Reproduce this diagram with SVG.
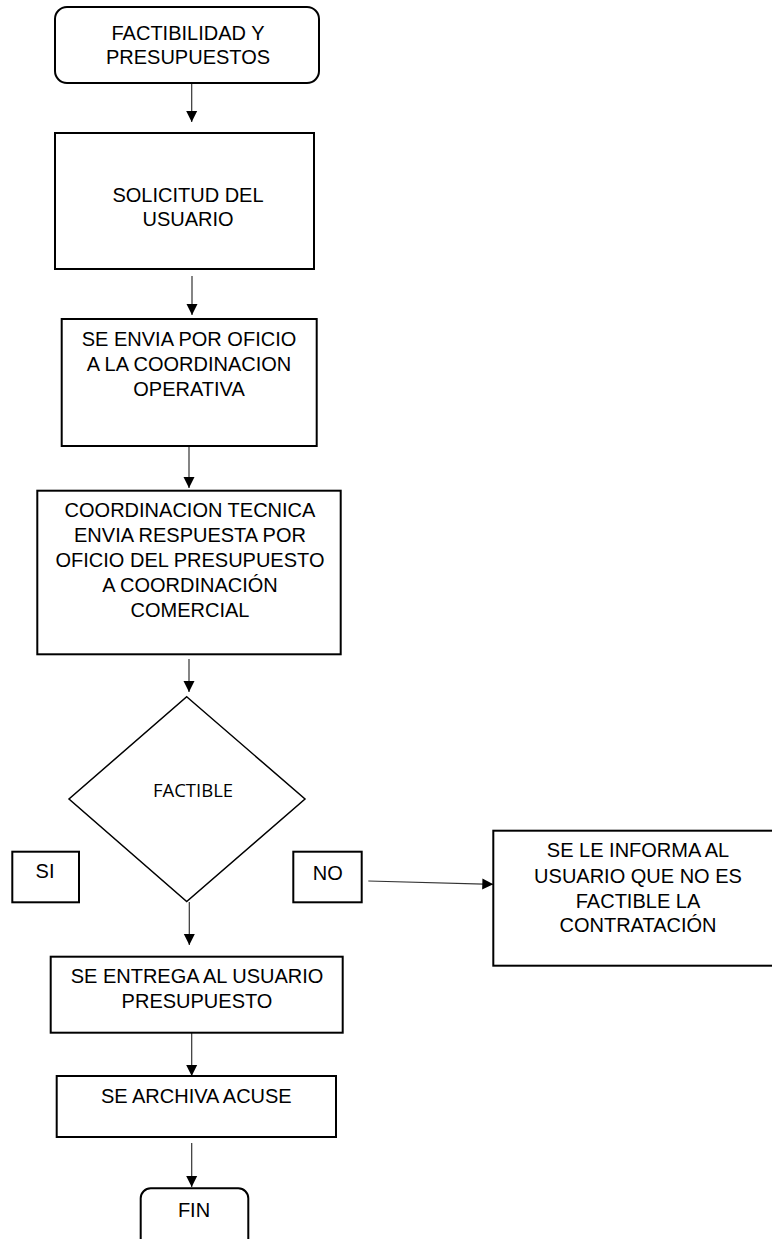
<svg xmlns="http://www.w3.org/2000/svg" width="772" height="1239" viewBox="0 0 772 1239">
<defs>
<marker id="ah" markerUnits="userSpaceOnUse" markerWidth="12" markerHeight="12" viewBox="0 0 12 12" refX="11" refY="6" orient="auto">
<path d="M0,0.5 L11,6 L0,11.5 Z" fill="#000"/>
</marker>
<style>
.box{fill:#fff;stroke:#000;stroke-width:2}
.dia{fill:#fff;stroke:#000;stroke-width:1.5}
.t{font-family:"Liberation Sans",Arial,sans-serif;font-size:20px;fill:#000;text-anchor:middle}
.c{font-family:"Open Sans","Noto Sans",sans-serif;font-size:18.5px;fill:#000;text-anchor:middle}
.ar{stroke:#333;stroke-width:1.2;fill:none;marker-end:url(#ah)}
</style>
</defs>
<rect width="772" height="1239" fill="#fff"/>
<g id="connectors">
<line class="ar" x1="191.7" y1="83" x2="191.7" y2="122"/>
<line class="ar" x1="192" y1="276" x2="192" y2="315"/>
<line class="ar" x1="189" y1="446" x2="189" y2="488"/>
<line class="ar" x1="189" y1="659" x2="189" y2="692"/>
<line class="ar" x1="189.3" y1="902" x2="189.3" y2="945"/>
<line class="ar" x1="191.7" y1="1033" x2="191.7" y2="1076"/>
<line class="ar" x1="191.7" y1="1143" x2="191.7" y2="1187"/>
<line class="ar" x1="368.3" y1="881" x2="493.3" y2="884.3"/>
</g>
<g id="n-start">
<rect class="box" x="55" y="7" width="264" height="76" rx="12" stroke-width="1.5"/>
<text class="t" x="188" y="39.5">FACTIBILIDAD Y</text>
<text class="t" x="188" y="63.5">PRESUPUESTOS</text>
</g>
<g id="n-solicitud">
<rect class="box" x="55" y="133" width="259" height="136"/>
<text class="t" x="188" y="201.7">SOLICITUD DEL</text>
<text class="t" x="188" y="226">USUARIO</text>
</g>
<g id="n-envia">
<rect class="box" x="61.7" y="319" width="255" height="127"/>
<text class="t" x="189" y="345.7">SE ENVIA POR OFICIO</text>
<text class="t" x="189" y="371">A LA COORDINACION</text>
<text class="t" x="189" y="396">OPERATIVA</text>
</g>
<g id="n-coord">
<rect class="box" x="37.3" y="490.7" width="303.4" height="163.6"/>
<text class="t" x="190" y="517.3">COORDINACION TECNICA</text>
<text class="t" x="190" y="542.3">ENVIA RESPUESTA POR</text>
<text class="t" x="190" y="567.3">OFICIO DEL PRESUPUESTO</text>
<text class="t" x="190" y="592">A COORDINACIÓN</text>
<text class="t" x="190" y="616.7">COMERCIAL</text>
</g>
<g id="n-factible">
<polygon class="dia" points="186.7,696.7 305,799 186.7,901.5 69,799"/>
<text class="c" x="193" y="797">FACTIBLE</text>
</g>
<g id="n-si">
<rect class="box" x="12.3" y="851.7" width="66.7" height="50.6" stroke-width="1.5"/>
<text class="t" x="45" y="878.3">SI</text>
</g>
<g id="n-no">
<rect class="box" x="293.3" y="851.7" width="68.4" height="50.6" stroke-width="1.5"/>
<text class="t" x="327.7" y="880">NO</text>
</g>
<g id="n-informa">
<rect class="box" x="493.3" y="830.7" width="290" height="135"/>
<text class="t" x="638" y="857.3">SE LE INFORMA AL</text>
<text class="t" x="638" y="883.3">USUARIO QUE NO ES</text>
<text class="t" x="638" y="908.3">FACTIBLE LA</text>
<text class="t" x="638" y="932.3">CONTRATACIÓN</text>
</g>
<g id="n-entrega">
<rect class="box" x="50.7" y="956.7" width="292" height="76"/>
<text class="t" x="197" y="983.3">SE ENTREGA AL USUARIO</text>
<text class="t" x="197" y="1008.3">PRESUPUESTO</text>
</g>
<g id="n-archiva">
<rect class="box" x="56.7" y="1076" width="279.3" height="61"/>
<text class="t" x="196.3" y="1102.7">SE ARCHIVA ACUSE</text>
</g>
<g id="n-fin">
<rect class="box" x="140.7" y="1188.3" width="107.6" height="70" rx="10" stroke-width="1.5"/>
<text class="t" x="194" y="1217.3">FIN</text>
</g>
</svg>
